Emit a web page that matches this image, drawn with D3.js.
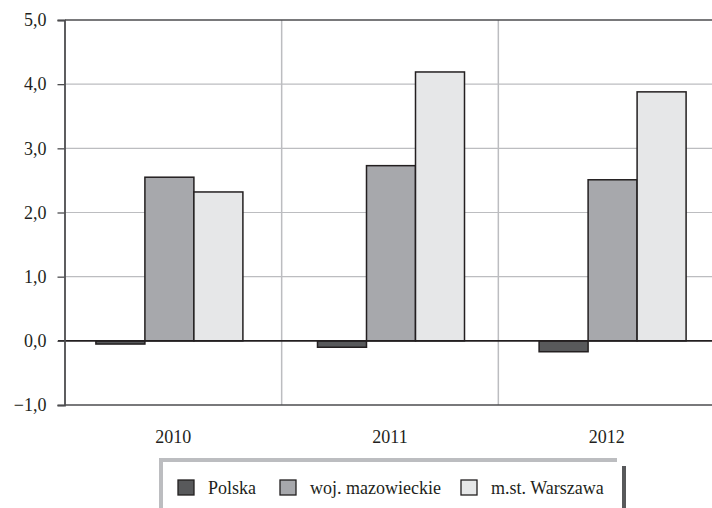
<!DOCTYPE html>
<html>
<head>
<meta charset="utf-8">
<script src="https://cdn.jsdelivr.net/npm/d3@7"></script>
<style>
  body { margin: 0; background: #fff; }
  svg { display: block; }
</style>
</head>
<body>
<div id="chart"></div>
<script>
// Data
const years = ["2010", "2011", "2012"];
const seriesNames = ["Polska", "woj. mazowieckie", "m.st. Warszawa"];
const polska = [-0.05, -0.10, -0.17];
const mazowieckie = [2.55, 2.73, 2.51];
const warszawa = [2.32, 4.19, 3.88];
const yTicks = [-1, 0, 1, 2, 3, 4, 5];

const colors = ["#58595b", "#a7a8ac", "#e6e7e8"];
const seriesValues = [polska, mazowieckie, warszawa];
const serif = "'Liberation Serif'";

const width = 712, height = 508;
const svg = d3.select("#chart").append("svg")
    .attr("width", width)
    .attr("height", height);

const y = d3.scaleLinear().domain([-1, 5]).range([405, 20]);

// category bands (separators + labels)
const x = d3.scaleBand().domain(years).range([65, 715]);
// bar groups sit slightly off the category centres in the original
const xGroup = d3.scaleBand().domain(years).range([58.6, 723.4]);
const xBar = d3.scaleBand().domain(seriesNames).range([0, 147]);

// horizontal gridlines
svg.append("g")
    .selectAll("line")
    .data(yTicks.filter(t => t > -1 && t < 5 && t !== 0))
    .join("line")
    .attr("x1", 65).attr("x2", width)
    .attr("y1", d => y(d)).attr("y2", d => y(d))
    .attr("stroke", "#bcbdc0")
    .attr("stroke-width", 1.2);

// vertical separators between years
svg.append("g")
    .selectAll("line")
    .data(years.slice(1))
    .join("line")
    .attr("x1", d => x(d)).attr("x2", d => x(d))
    .attr("y1", y(5)).attr("y2", y(-1))
    .attr("stroke", "#bcbdc0")
    .attr("stroke-width", 1.5);

// top and bottom borders
[5, -1].forEach(v => {
    svg.append("line")
        .attr("x1", 65).attr("x2", width)
        .attr("y1", y(v)).attr("y2", y(v))
        .attr("stroke", "#4d4d4f")
        .attr("stroke-width", 1.6);
});

// bars
const bars = [];
years.forEach((yr, i) => {
    seriesNames.forEach((s, j) => {
        bars.push({ year: yr, series: s, value: seriesValues[j][i], color: colors[j] });
    });
});

svg.append("g")
    .selectAll("rect")
    .data(bars)
    .join("rect")
    .attr("x", d => xGroup(d.year) + (xGroup.bandwidth() - 147) / 2 + xBar(d.series))
    .attr("width", xBar.bandwidth())
    .attr("y", d => y(Math.max(0, d.value)))
    .attr("height", d => Math.abs(y(d.value) - y(0)))
    .attr("fill", d => d.color)
    .attr("stroke", "#231f20")
    .attr("stroke-width", 1.5);

// zero line
svg.append("line")
    .attr("x1", 58).attr("x2", width)
    .attr("y1", y(0)).attr("y2", y(0))
    .attr("stroke", "#231f20")
    .attr("stroke-width", 1.6);

// y axis
const yAxis = svg.append("g")
    .attr("transform", "translate(64.5,0)")
    .call(d3.axisLeft(y)
        .tickValues(yTicks)
        .tickSize(7)
        .tickPadding(11)
        .tickFormat(d => (d < 0 ? "\u2212" : "") + Math.abs(d).toFixed(1).replace(".", ",")));
yAxis.attr("font-family", null).attr("font-size", null);
yAxis.select(".domain").attr("stroke", "#4d4d4f").attr("stroke-width", 1.8);
yAxis.selectAll(".tick line").attr("stroke", "#4d4d4f").attr("stroke-width", 1.3);
yAxis.selectAll(".tick text")
    .style("font-family", serif)
    .style("font-size", "18px")
    .attr("fill", "#231f20");

// x labels
svg.append("g")
    .selectAll("text")
    .data(years)
    .join("text")
    .attr("x", d => x(d) + x.bandwidth() / 2)
    .attr("y", 443)
    .attr("text-anchor", "middle")
    .style("font-family", serif)
    .style("font-size", "18px")
    .attr("fill", "#231f20")
    .text(d => d);

// legend frame
svg.append("line")
    .attr("x1", 159).attr("x2", 617)
    .attr("y1", 460).attr("y2", 460)
    .attr("stroke", "#bcbdc0").attr("stroke-width", 4);
svg.append("line")
    .attr("x1", 161).attr("x2", 161)
    .attr("y1", 458).attr("y2", height)
    .attr("stroke", "#bcbdc0").attr("stroke-width", 4);
svg.append("line")
    .attr("x1", 624).attr("x2", 624)
    .attr("y1", 466).attr("y2", height)
    .attr("stroke", "#58595b").attr("stroke-width", 4);

const legendX = [178, 280, 461];
const legend = svg.append("g")
    .selectAll("g")
    .data(seriesNames)
    .join("g")
    .attr("transform", (d, i) => `translate(${legendX[i]},480)`);
legend.append("rect")
    .attr("width", 16).attr("height", 15)
    .attr("fill", (d, i) => colors[i])
    .attr("stroke", "#231f20")
    .attr("stroke-width", 1.3);
legend.append("text")
    .attr("x", 30)
    .attr("y", 14)
    .style("font-family", serif)
    .style("font-size", "18px")
    .attr("fill", "#231f20")
    .text(d => d);
</script>
</body>
</html>
